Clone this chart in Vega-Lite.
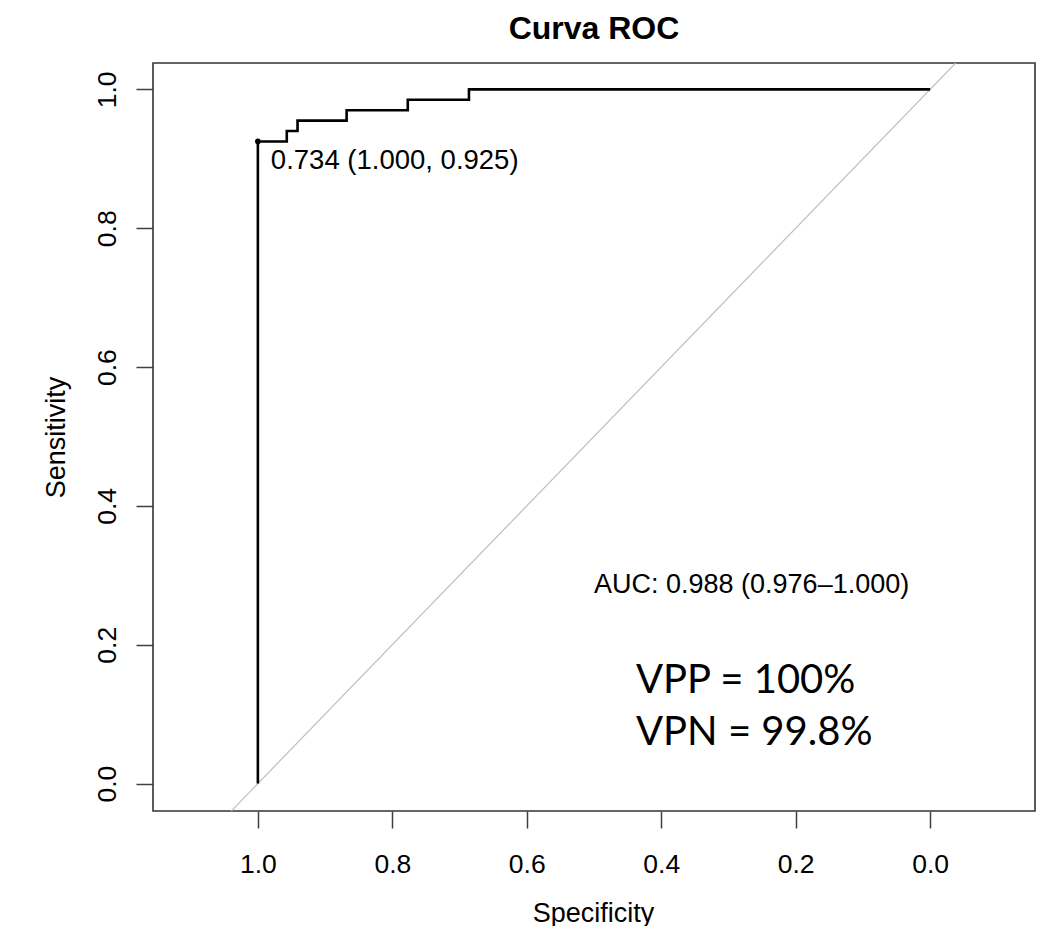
{
  "$schema": "https://vega.github.io/schema/vega-lite/v6.json",
  "autosize": {"type": "none"},
  "padding": {"left": 153, "top": 63, "right": 7, "bottom": 115},
  "width": 882,
  "height": 748,
  "background": "white",
  "title": {
    "text": "Curva ROC",
    "font": "Liberation Sans",
    "fontSize": 32,
    "fontWeight": "bold",
    "color": "black",
    "anchor": "middle",
    "baseline": "alphabetic",
    "offset": 24,
    "dy": 32
  },
  "config": {
    "view": {"stroke": "#333333", "strokeWidth": 1.6},
    "axis": {
      "domain": false,
      "grid": false,
      "ticks": true,
      "tickSize": 17,
      "tickWidth": 1.5,
      "tickColor": "#404040",
      "labelFont": "Liberation Sans",
      "labelFontSize": 26.5,
      "labelColor": "black",
      "titleFont": "Liberation Sans",
      "titleFontSize": 27,
      "titleFontWeight": "normal",
      "titleColor": "black"
    }
  },
  "datasets": {
    "curve": [
      {"step": 1, "specificity": 1.0, "sensitivity": 0.0},
      {"step": 2, "specificity": 1.0, "sensitivity": 0.925},
      {"step": 3, "specificity": 0.957, "sensitivity": 0.925},
      {"step": 4, "specificity": 0.957, "sensitivity": 0.940},
      {"step": 5, "specificity": 0.941, "sensitivity": 0.940},
      {"step": 6, "specificity": 0.941, "sensitivity": 0.955},
      {"step": 7, "specificity": 0.868, "sensitivity": 0.955},
      {"step": 8, "specificity": 0.868, "sensitivity": 0.970},
      {"step": 9, "specificity": 0.777, "sensitivity": 0.970},
      {"step": 10, "specificity": 0.777, "sensitivity": 0.985},
      {"step": 11, "specificity": 0.686, "sensitivity": 0.985},
      {"step": 12, "specificity": 0.686, "sensitivity": 1.0},
      {"step": 13, "specificity": 0.0, "sensitivity": 1.0}
    ],
    "best": [
      {"threshold": 0.734, "specificity": 1.0, "sensitivity": 0.925, "label": "0.734 (1.000, 0.925)"}
    ],
    "single": [{}]
  },
  "encoding": {
    "x": {
      "type": "quantitative",
      "scale": {"domain": [-0.156, 1.156], "reverse": true, "nice": false, "zero": false},
      "axis": {
        "title": "Specificity",
        "values": [0, 0.2, 0.4, 0.6, 0.8, 1.0],
        "format": ".1f",
        "labelPadding": 23,
        "titleX": 440,
        "titleY": 110,
        "titleBaseline": "alphabetic",
        "titleAlign": "center"
      }
    },
    "y": {
      "type": "quantitative",
      "scale": {"domain": [-0.0395, 1.038], "nice": false, "zero": false},
      "axis": {
        "title": "Sensitivity",
        "values": [0, 0.2, 0.4, 0.6, 0.8, 1.0],
        "format": ".1f",
        "labelAngle": -90,
        "labelAlign": "center",
        "labelBaseline": "alphabetic",
        "labelPadding": 21,
        "titleAngle": -90,
        "titleX": -89,
        "titleY": 374,
        "titleBaseline": "alphabetic",
        "titleAlign": "center"
      }
    }
  },
  "layer": [
    {
      "data": {"name": "single"},
      "mark": {"type": "rule", "color": "#bebebe", "strokeWidth": 1.2, "clip": true},
      "encoding": {
        "x": {"datum": 1.2},
        "y": {"datum": -0.2},
        "x2": {"datum": -0.2},
        "y2": {"datum": 1.2}
      }
    },
    {
      "data": {"name": "curve"},
      "mark": {"type": "line", "color": "black", "strokeWidth": 2.6, "strokeJoin": "miter"},
      "encoding": {
        "x": {"field": "specificity"},
        "y": {"field": "sensitivity"},
        "order": {"field": "step", "type": "quantitative"}
      }
    },
    {
      "data": {"name": "best"},
      "mark": {"type": "circle", "color": "black", "opacity": 1, "size": 32},
      "encoding": {
        "x": {"field": "specificity"},
        "y": {"field": "sensitivity"}
      }
    },
    {
      "data": {"name": "best"},
      "mark": {"type": "text", "font": "Liberation Sans", "fontSize": 27.5, "color": "black", "align": "left", "baseline": "alphabetic", "dx": 13, "dy": 28},
      "encoding": {
        "x": {"field": "specificity"},
        "y": {"field": "sensitivity"},
        "text": {"field": "label"}
      }
    },
    {
      "data": {"name": "single"},
      "mark": {"type": "text", "font": "Liberation Sans", "fontSize": 27, "color": "black", "align": "left", "baseline": "alphabetic"},
      "encoding": {
        "x": {"datum": 0.5},
        "y": {"datum": 0.274},
        "text": {"value": "AUC: 0.988 (0.976–1.000)"}
      }
    },
    {
      "data": {"name": "single"},
      "mark": {"type": "text", "font": "Lato", "fontSize": 40, "color": "black", "align": "left", "baseline": "alphabetic", "lineBreak": "\n", "lineHeight": 52.5},
      "encoding": {
        "x": {"datum": 0.4375},
        "y": {"datum": 0.1305},
        "text": {"value": "VPP = 100%\nVPN = 99.8%"}
      }
    }
  ]
}
